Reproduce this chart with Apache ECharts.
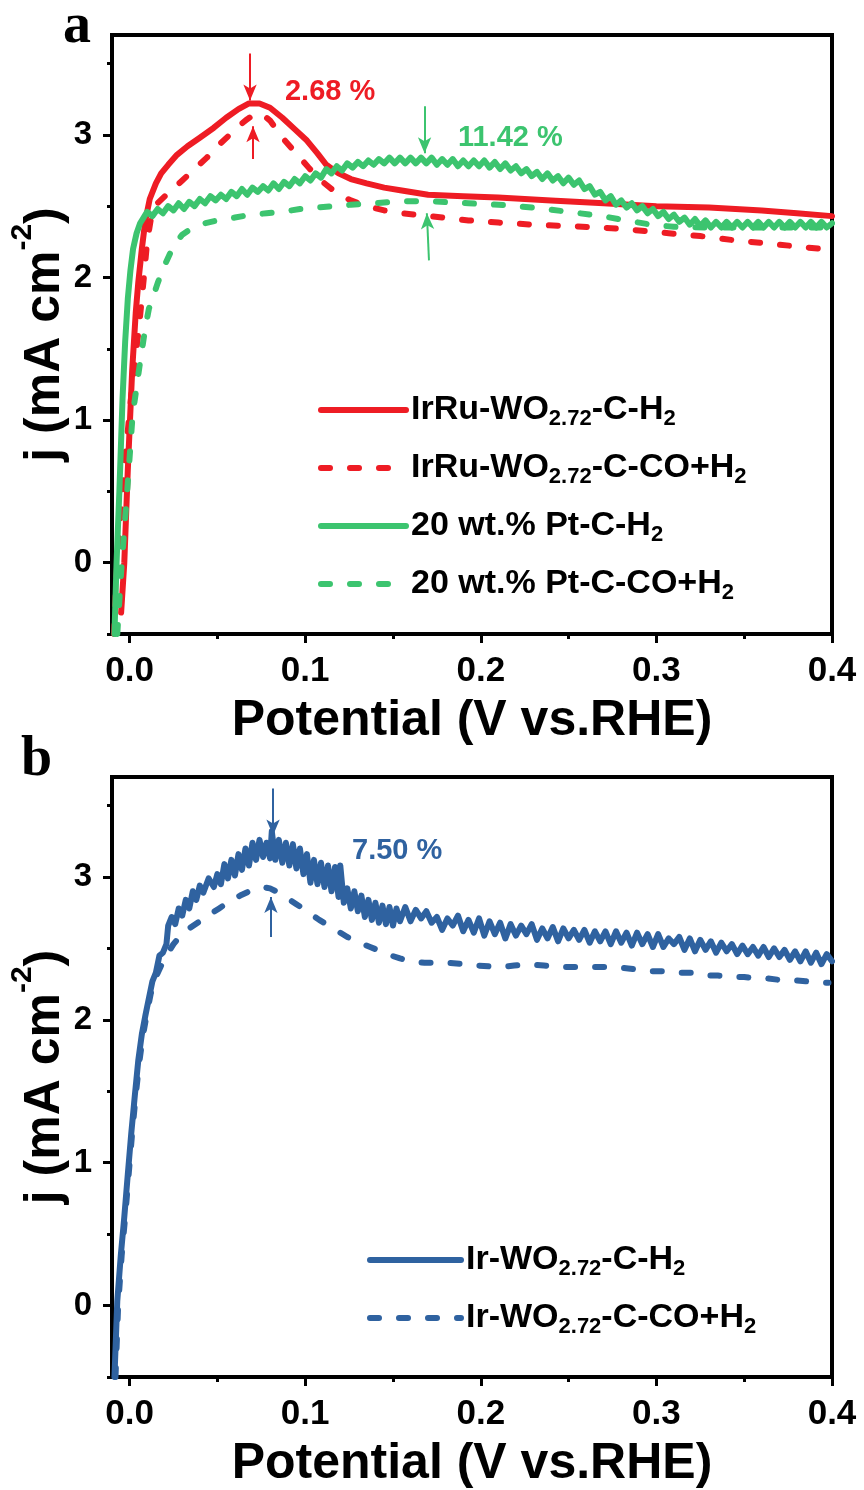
<!DOCTYPE html>
<html>
<head>
<meta charset="utf-8">
<script src="https://cdn.jsdelivr.net/npm/echarts@6/dist/echarts.min.js"></script>
<style>
html,body{margin:0;padding:0;background:#fff;}
#chart{width:864px;height:1490px;}
</style>
</head>
<body>
<div id="chart"></div>
<script>
// ---------- tick labels ----------
const X_TICKS = [0, 0.1, 0.2, 0.3, 0.4];
const X_MINOR = [0.05, 0.15, 0.25, 0.35];
const Y_TICKS = [0, 1, 2, 3];
const Y_MINOR = [-0.5, 0.5, 1.5, 2.5, 3.5];

// ---------- series names ----------
const NAMES_A = ['IrRu-WO2.72-C-H2', 'IrRu-WO2.72-C-CO+H2', '20 wt.% Pt-C-H2', '20 wt.% Pt-C-CO+H2'];
const LABELS_A = ['IrRu-WO{sub|2.72}-C-H{sub|2}', 'IrRu-WO{sub|2.72}-C-CO+H{sub|2}', '20 wt.% Pt-C-H{sub|2}', '20 wt.% Pt-C-CO+H{sub|2}'];
const NAMES_B = ['Ir-WO2.72-C-H2', 'Ir-WO2.72-C-CO+H2'];
const LABELS_B = ['Ir-WO{sub|2.72}-C-H{sub|2}', 'Ir-WO{sub|2.72}-C-CO+H{sub|2}'];

// ---------- panel a data ----------
const redSolid = [[-0.0048,-0.35],[-0.003,0.0],[-0.001,0.65],[0.0015,1.35],[0.0035,1.75],[0.005,1.97],[0.007,2.2],[0.009,2.4],[0.0115,2.55],[0.015,2.66],[0.018,2.73],[0.022,2.79],[0.027,2.86],[0.033,2.92],[0.040,2.98],[0.048,3.05],[0.055,3.12],[0.062,3.18],[0.068,3.22],[0.074,3.22],[0.080,3.19],[0.087,3.12],[0.094,3.04],[0.101,2.96],[0.107,2.87],[0.112,2.79],[0.119,2.73],[0.126,2.69],[0.135,2.66],[0.145,2.63],[0.155,2.61],[0.170,2.58],[0.190,2.57],[0.210,2.56],[0.240,2.54],[0.270,2.52],[0.300,2.50],[0.330,2.49],[0.360,2.47],[0.380,2.45],[0.400,2.43]];

const redDash = [[-0.0088,-0.5],[-0.0075,-0.1],[-0.006,0.2],[-0.004,0.5],[-0.002,0.8],[0.0,1.05],[0.002,1.3],[0.004,1.5],[0.006,1.73],[0.008,1.98],[0.010,2.25],[0.012,2.4],[0.015,2.51],[0.021,2.58],[0.030,2.68],[0.037,2.76],[0.044,2.84],[0.050,2.92],[0.057,3.0],[0.063,3.07],[0.067,3.11],[0.072,3.15],[0.076,3.14],[0.080,3.10],[0.087,2.98],[0.092,2.91],[0.097,2.84],[0.102,2.77],[0.107,2.70],[0.112,2.65],[0.116,2.61],[0.121,2.57],[0.126,2.54],[0.135,2.50],[0.145,2.47],[0.155,2.45],[0.171,2.43],[0.193,2.40],[0.210,2.385],[0.230,2.37],[0.250,2.36],[0.269,2.35],[0.290,2.33],[0.307,2.31],[0.325,2.29],[0.345,2.26],[0.370,2.23],[0.394,2.20],[0.400,2.19]];

const greenSolid = [[-0.0086,-0.5],[-0.0074,0.0],[-0.0058,0.5],[-0.004,1.15],[-0.0025,1.55],[-0.001,1.85],[0.0005,2.05],[0.002,2.2],[0.004,2.31],[0.006,2.38],[0.008,2.42],
[0.010,2.46],[0.013,2.43],[0.016,2.48],[0.019,2.45],[0.022,2.50],[0.025,2.47],[0.028,2.52],[0.031,2.48],[0.034,2.53],[0.037,2.50],
[0.040,2.55],[0.043,2.52],[0.046,2.57],[0.049,2.54],[0.052,2.58],[0.055,2.55],[0.058,2.60],[0.061,2.57],[0.064,2.62],[0.067,2.58],
[0.070,2.63],[0.073,2.60],[0.076,2.64],[0.079,2.61],[0.082,2.66],[0.085,2.62],[0.088,2.67],[0.091,2.64],[0.094,2.69],[0.097,2.66],
[0.100,2.71],[0.103,2.68],[0.106,2.73],[0.109,2.70],[0.112,2.76],[0.115,2.73],[0.118,2.78],[0.121,2.75],[0.124,2.80],[0.127,2.77],
[0.130,2.81],[0.133,2.78],[0.136,2.82],[0.139,2.79],[0.142,2.83],[0.145,2.80],[0.148,2.84],[0.151,2.80],[0.154,2.84],[0.157,2.80],
[0.160,2.84],[0.163,2.80],[0.166,2.84],[0.169,2.80],[0.172,2.84],[0.175,2.79],[0.178,2.83],[0.181,2.79],[0.184,2.83],[0.187,2.78],
[0.190,2.82],[0.193,2.78],[0.196,2.82],[0.199,2.78],[0.202,2.82],[0.205,2.77],[0.208,2.81],[0.211,2.76],[0.214,2.80],[0.217,2.75],
[0.220,2.78],[0.223,2.73],[0.226,2.76],[0.229,2.71],[0.232,2.74],[0.235,2.69],[0.238,2.73],[0.241,2.68],[0.244,2.71],[0.247,2.66],
[0.250,2.70],[0.253,2.65],[0.256,2.68],[0.259,2.62],[0.262,2.64],[0.265,2.58],[0.268,2.60],[0.271,2.54],[0.274,2.57],[0.277,2.51],
[0.280,2.54],[0.283,2.49],[0.286,2.52],[0.289,2.47],[0.292,2.50],[0.295,2.45],[0.298,2.48],[0.301,2.43],[0.304,2.46],[0.307,2.41],
[0.310,2.44],[0.313,2.39],[0.316,2.42],[0.319,2.37],[0.322,2.41],[0.325,2.36],[0.328,2.40],[0.331,2.35],[0.334,2.39],[0.337,2.35],
[0.340,2.39],[0.343,2.35],[0.346,2.39],[0.349,2.35],[0.352,2.39],[0.355,2.35],[0.358,2.39],[0.361,2.35],[0.364,2.39],[0.367,2.35],
[0.370,2.39],[0.373,2.35],[0.376,2.39],[0.379,2.35],[0.382,2.39],[0.385,2.35],[0.388,2.39],[0.391,2.35],[0.394,2.39],[0.397,2.35],[0.400,2.38]];

const greenDash = [[-0.007,-0.5],[-0.0046,-0.03],[-0.0017,0.44],[0.0017,1.03],[0.0057,1.38],[0.009,1.65],[0.011,1.78],[0.013,1.85],[0.016,1.96],[0.019,2.06],[0.025,2.22],[0.030,2.30],[0.036,2.35],[0.043,2.38],[0.050,2.40],[0.060,2.42],[0.069,2.44],[0.078,2.45],[0.087,2.46],[0.097,2.48],[0.107,2.49],[0.117,2.50],[0.126,2.51],[0.140,2.52],[0.154,2.535],[0.171,2.535],[0.193,2.52],[0.210,2.51],[0.230,2.49],[0.250,2.46],[0.269,2.43],[0.283,2.40],[0.297,2.37],[0.310,2.355],[0.330,2.35],[0.360,2.35],[0.400,2.35]];

// ---------- panel b data ----------
const blueSolid = [[-0.0086,-0.5],[-0.007,0.03],[-0.005,0.35],[-0.003,0.62],[-0.001,0.92],[0.001,1.21],[0.003,1.47],[0.005,1.72],[0.007,1.90],[0.009,2.03],[0.011,2.15],[0.013,2.27],[0.015,2.33],[0.017,2.45],[0.019,2.47],[0.021,2.53],[0.022,2.66],[0.024,2.72],[0.026,2.67],[0.028,2.78],[0.030,2.73],[0.032,2.84],[0.034,2.78],[0.036,2.90],[0.038,2.84],[0.040,2.94],[0.042,2.89],[0.045,2.99],[0.048,2.93],[0.050,3.02],[0.052,2.95],[0.054,3.09],[0.056,2.99],[0.058,3.12],[0.060,3.01],[0.062,3.16],[0.064,3.05],[0.066,3.20],[0.068,3.08],[0.070,3.24],[0.072,3.12],[0.074,3.26],[0.076,3.14],[0.078,3.24],[0.080,3.13],[0.081,3.32],[0.083,3.12],[0.085,3.26],[0.087,3.10],[0.089,3.24],[0.091,3.08],[0.093,3.23],[0.095,3.06],[0.097,3.20],[0.099,3.02],[0.101,3.16],[0.103,2.96],[0.105,3.12],[0.107,2.95],[0.109,3.10],[0.111,2.93],[0.113,3.08],[0.115,2.90],[0.117,3.07],[0.119,2.86],[0.120,3.08],[0.122,2.82],[0.124,2.92],[0.126,2.78],[0.128,2.90],[0.130,2.76],[0.132,2.87],[0.134,2.72],[0.136,2.84],[0.138,2.70],[0.140,2.82],[0.142,2.68],[0.144,2.80],[0.146,2.67],[0.148,2.79],[0.150,2.66],[0.152,2.78],[0.154,2.69],[0.157,2.79],[0.160,2.69],[0.163,2.77],[0.166,2.71],[0.169,2.76],[0.172,2.68],[0.175,2.72],[0.178,2.63],[0.181,2.71],[0.184,2.66],[0.187,2.73],[0.190,2.62],[0.193,2.70],[0.196,2.61],[0.199,2.71],[0.202,2.59],[0.205,2.69],[0.208,2.60],[0.211,2.68],[0.214,2.57],[0.217,2.67],[0.220,2.59],[0.223,2.66],[0.226,2.60],[0.229,2.67],[0.232,2.56],[0.235,2.64],[0.238,2.57],[0.241,2.65],[0.244,2.55],[0.247,2.64],[0.250,2.57],[0.253,2.63],[0.256,2.56],[0.259,2.63],[0.262,2.54],[0.265,2.62],[0.268,2.55],[0.271,2.62],[0.274,2.53],[0.277,2.62],[0.280,2.54],[0.283,2.61],[0.286,2.52],[0.289,2.61],[0.292,2.53],[0.295,2.60],[0.298,2.51],[0.301,2.60],[0.304,2.51],[0.307,2.57],[0.310,2.53],[0.313,2.58],[0.316,2.49],[0.319,2.57],[0.322,2.48],[0.325,2.56],[0.328,2.49],[0.331,2.55],[0.334,2.47],[0.337,2.54],[0.340,2.48],[0.343,2.53],[0.346,2.46],[0.349,2.52],[0.352,2.46],[0.355,2.51],[0.358,2.45],[0.361,2.51],[0.364,2.44],[0.367,2.50],[0.370,2.44],[0.373,2.49],[0.376,2.42],[0.379,2.48],[0.382,2.41],[0.385,2.48],[0.388,2.40],[0.391,2.47],[0.394,2.39],[0.397,2.46],[0.400,2.41]];

const blueDash = [[-0.008,-0.5],[-0.0065,0.0],[-0.0045,0.35],[-0.0025,0.62],[-0.0005,0.92],[0.0015,1.21],[0.0035,1.47],[0.0055,1.70],[0.0075,1.88],[0.0095,2.02],[0.012,2.18],[0.015,2.30],[0.018,2.38],[0.021,2.45],[0.025,2.53],[0.029,2.59],[0.034,2.64],[0.040,2.69],[0.046,2.74],[0.051,2.78],[0.057,2.83],[0.063,2.87],[0.070,2.91],[0.076,2.93],[0.080,2.92],[0.085,2.89],[0.090,2.85],[0.095,2.81],[0.101,2.76],[0.108,2.70],[0.116,2.64],[0.124,2.58],[0.131,2.54],[0.137,2.51],[0.143,2.48],[0.149,2.45],[0.154,2.43],[0.160,2.41],[0.168,2.40],[0.181,2.40],[0.190,2.39],[0.198,2.38],[0.211,2.37],[0.219,2.38],[0.227,2.39],[0.236,2.38],[0.244,2.37],[0.259,2.37],[0.276,2.37],[0.284,2.36],[0.290,2.35],[0.295,2.34],[0.300,2.34],[0.305,2.34],[0.312,2.33],[0.320,2.33],[0.328,2.31],[0.335,2.31],[0.343,2.30],[0.350,2.30],[0.357,2.29],[0.363,2.29],[0.370,2.28],[0.377,2.28],[0.385,2.27],[0.392,2.26],[0.398,2.26]];

// ---------- annotations (data coordinates) ----------
const ARROWS_RED = [[[0.0686,3.57],[0.0686,3.24]], [[0.0703,2.83],[0.0703,3.06]]];
const ARROWS_GREEN = [[[0.168,3.20],[0.168,2.87]], [[0.1705,2.12],[0.1693,2.45]]];
const ARROWS_BLUE = [[[0.0817,3.62],[0.0817,3.29]], [[0.0805,2.58],[0.0805,2.86]]];
const TEXT_RED = {text:'2.68 %', at:[0.0885,3.30]};
const TEXT_GREEN = {text:'11.42 %', at:[0.187,2.98]};
const TEXT_BLUE = {text:'7.50 %', at:[0.1267,3.18]};

const RED = '#EE1C24', GREEN = '#3CC46F', BLUE = '#2F62A0';
const FONT = 'Liberation Sans, Arial, sans-serif';
const DASH = [9, 20];

function xAxes(gridIndex) {
  const common = {type:'value', gridIndex, min:-0.01, max:0.4, position:'bottom', splitLine:{show:false}, axisLine:{show:false, onZero:false}};
  return [
    Object.assign({}, common, {
      axisTick:{show:true, inside:false, length:9, lineStyle:{width:3, color:'#000'}, customValues:X_TICKS},
      axisLabel:{show:true, customValues:X_TICKS, formatter:v => v.toFixed(1), fontSize:35, fontWeight:'bold', color:'#000', fontFamily:FONT, margin:20},
      name:'Potential (V vs.RHE)', nameLocation:'middle', nameGap:62, nameMoveOverlap:false,
      nameTextStyle:{fontSize:50, fontWeight:'bold', color:'#000', fontFamily:FONT}
    }),
    Object.assign({}, common, {
      axisTick:{show:true, inside:false, length:5, lineStyle:{width:3, color:'#000'}, customValues:X_MINOR},
      axisLabel:{show:false}
    })
  ];
}
function yAxes(gridIndex) {
  const common = {type:'value', gridIndex, min:-0.5, max:3.7, position:'left', splitLine:{show:false}, axisLine:{show:false, onZero:false}};
  return [
    Object.assign({}, common, {
      axisTick:{show:true, inside:false, length:9, lineStyle:{width:3, color:'#000'}, customValues:Y_TICKS},
      axisLabel:{show:true, customValues:Y_TICKS, formatter:v => String(v), fontSize:33, fontWeight:'bold', color:'#000', fontFamily:FONT, margin:20},
      name:'j (mA cm{sup|-2})', nameLocation:'middle', nameRotate:90, nameGap:30, nameMoveOverlap:false,
      nameTextStyle:{fontSize:50, fontWeight:'bold', color:'#000', fontFamily:FONT, lineHeight:74,
        rich:{sup:{fontSize:30, fontWeight:'bold', fontFamily:FONT, color:'#000', lineHeight:30, verticalAlign:'top'}}}
    }),
    Object.assign({}, common, {
      axisTick:{show:true, inside:false, length:5, lineStyle:{width:3, color:'#000'}, customValues:Y_MINOR},
      axisLabel:{show:false}
    })
  ];
}

function lineSeries(name, data, color, dashed, axisIdx) {
  return {
    type:'line', name, data, xAxisIndex:axisIdx, yAxisIndex:axisIdx,
    symbol:'none', showSymbol:false, animation:false, silent:true,
    lineStyle:{color, width:6, type: dashed ? DASH : 'solid', cap:'round', join:'round'},
    itemStyle:{color}
  };
}
function arrows(list, color) {
  return {
    silent:true, symbol:['none','arrow'], symbolSize:[10,16], animation:false,
    lineStyle:{color, width:2, type:'solid'}, label:{show:false},
    emphasis:{disabled:true},
    data: list.map(a => [{coord:a[0]}, {coord:a[1]}])
  };
}
function note(t, color) {
  return {
    silent:true, symbol:'circle', symbolSize:0, animation:false,
    label:{show:true, position:'right', distance:0, formatter:t.text, color, fontSize:29, fontWeight:'bold', fontFamily:FONT},
    data:[{coord:t.at}]
  };
}
function legendFor(names, labels, left, top, itemWidth) {
  return {
    orient:'vertical', left, top, padding:0, itemWidth, itemHeight:40, itemGap:18,
    selectedMode:false, data:names,
    formatter: n => labels[names.indexOf(n)],
    lineStyle:{width:6},
    itemStyle:{opacity:0, borderWidth:0},
    textStyle:{fontSize:34, fontWeight:'bold', color:'#000', fontFamily:FONT, lineHeight:40,
      rich:{sub:{fontSize:22, fontWeight:'bold', color:'#000', fontFamily:FONT, lineHeight:10, verticalAlign:'bottom'}}}
  };
}

const sRed = lineSeries(NAMES_A[0], redSolid, RED, false, 0);
sRed.markLine = arrows(ARROWS_RED, RED);
sRed.markPoint = note(TEXT_RED, RED);
const sGreen = lineSeries(NAMES_A[2], greenSolid, GREEN, false, 0);
sGreen.markLine = arrows(ARROWS_GREEN, GREEN);
sGreen.markPoint = note(TEXT_GREEN, GREEN);
const sBlue = lineSeries(NAMES_B[0], blueSolid, BLUE, false, 2);
sBlue.markLine = arrows(ARROWS_BLUE, BLUE);
sBlue.markPoint = note(TEXT_BLUE, BLUE);

const option = {
  animation:false,
  backgroundColor:'#fff',
  grid:[
    {left:112, top:35, width:720, height:599, show:true, borderWidth:4, borderColor:'#000', backgroundColor:'transparent', containLabel:false, outerBoundsMode:'none'},
    {left:112, top:777, width:720, height:600, show:true, borderWidth:4, borderColor:'#000', backgroundColor:'transparent', containLabel:false, outerBoundsMode:'none'}
  ],
  xAxis:[...xAxes(0), ...xAxes(1)],
  yAxis:[...yAxes(0), ...yAxes(1)],
  legend:[
    legendFor(NAMES_A, LABELS_A, 318, 390, 85),
    legendFor(NAMES_B, LABELS_B, 367, 1240, 91)
  ],
  graphic:[
    {type:'text', x:63, y:28, style:{text:'a', font:'bold 56px "Liberation Serif", "Times New Roman", serif', fill:'#000', verticalAlign:'middle'}},
    {type:'text', x:21, y:761, style:{text:'b', font:'bold 56px "Liberation Serif", "Times New Roman", serif', fill:'#000', verticalAlign:'middle'}}
  ],
  series:[
    sRed,
    lineSeries(NAMES_A[1], redDash, RED, true, 0),
    sGreen,
    lineSeries(NAMES_A[3], greenDash, GREEN, true, 0),
    sBlue,
    lineSeries(NAMES_B[1], blueDash, BLUE, true, 2)
  ]
};

const chart = echarts.init(document.getElementById('chart'), null, {renderer:'canvas', width:864, height:1490});
chart.setOption(option);
</script>
</body>
</html>
